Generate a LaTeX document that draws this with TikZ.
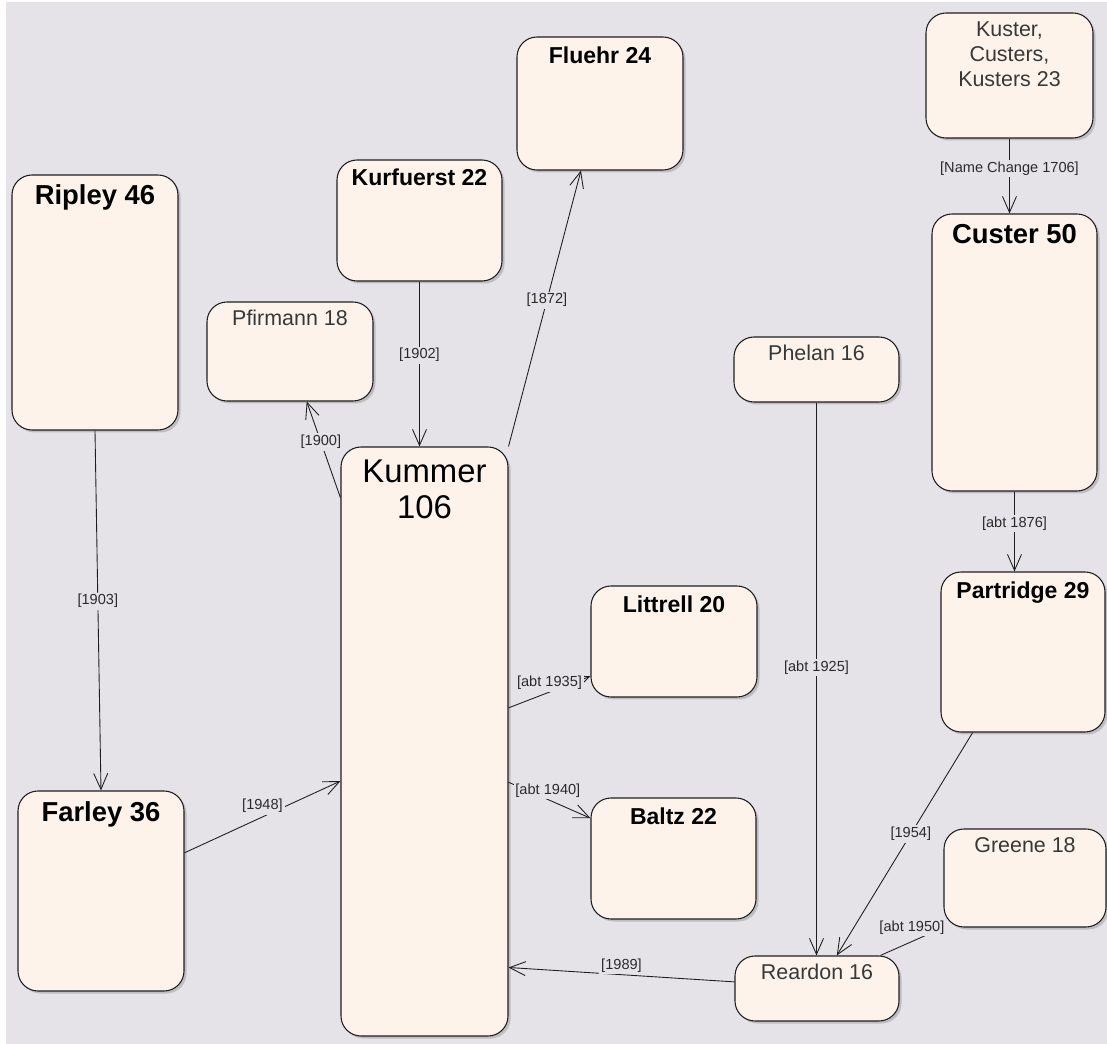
\documentclass[tikz,border=0pt]{standalone}
\usepackage{fontspec}
\setmainfont{Liberation Sans}
\usetikzlibrary{arrows.meta, positioning, calc, shadows}
\definecolor{canvasGray}{HTML}{E6E3E8}
\definecolor{boxCream}{HTML}{FDF3EA}
\definecolor{edgeDark}{HTML}{1E1E1E}
\definecolor{nameGray}{HTML}{383838}
\definecolor{lblText}{HTML}{2A2A2A}
\tikzset{
  famBox/.style 2 args={rectangle, rounded corners=0.4cm, draw=edgeDark, line width=0.6pt,
    fill=boxCream, minimum width=#1*0.02cm, minimum height=#2*0.02cm, inner sep=0pt,
    drop shadow={shadow xshift=0.05cm, shadow yshift=-0.05cm, opacity=0.25, fill=black!70}},
  nameHuge/.style={font=\fontsize{18.7}{20.5}\selectfont, inner sep=0pt, align=center},
  nameBig/.style={font=\fontsize{15.6}{18}\selectfont\bfseries, inner sep=0pt},
  nameBold/.style={font=\fontsize{13.1}{15}\selectfont\bfseries, inner sep=0pt},
  nameThin/.style={font=\fontsize{12.2}{14.2}\selectfont, text=nameGray, inner sep=0pt, align=center},
  arr/.style={-{Straight Barb[length=3.2mm, width=2.8mm]}, draw=edgeDark, line width=0.5pt},
  plain/.style={draw=edgeDark, line width=0.5pt},
  lbl/.style={fill=canvasGray, inner sep=1pt, text=lblText, font=\fontsize{8.3}{10}\selectfont},
}

\begin{document}
\begin{tikzpicture}[x=0.02cm, y=-0.02cm]
  \useasboundingbox (0,0) rectangle (1107,1044);
  \fill[white] (0,0) rectangle (1107,1044);
  \fill[canvasGray] (6,2) rectangle (1107,1044);

  % family boxes
  \node[famBox={167}{125}] (kuster) at (1009.5,75.5) {};
  \node[famBox={166}{133}] (fluehr) at (600,103.5) {};
  \node[famBox={166}{255}] (ripley) at (95,302.5) {};
  \node[famBox={165}{121}] (kurfuerst) at (419.5,220.5) {};
  \node[famBox={165}{277}] (custer) at (1014.5,352.5) {};
  \node[famBox={166}{99}] (pfirmann) at (290,351.5) {};
  \node[famBox={165}{65}] (phelan) at (816.5,369.5) {};
  \node[famBox={167}{589}] (kummer) at (424.5,741.5) {};
  \node[famBox={166}{111}] (littrell) at (674,641.5) {};
  \node[famBox={164}{160}] (partridge) at (1023,652) {};
  \node[famBox={166}{200}] (farley) at (101,891) {};
  \node[famBox={165}{121}] (baltz) at (673.5,858.5) {};
  \node[famBox={162}{98}] (greene) at (1025,878) {};
  \node[famBox={164}{65}] (reardon) at (817,988.5) {};

  % names
  \node[nameThin, below=0.18cm of kuster.north] (kusterT) {Kuster,\\Custers,\\Kusters 23};
  \node[nameBold, below=0.2cm of fluehr.north] (fluehrT) {Fluehr 24};
  \node[nameBig, below=0.2cm of ripley.north] (ripleyT) {Ripley 46};
  \node[nameBold, below=0.18cm of kurfuerst.north] (kurfuerstT) {Kurfuerst 22};
  \node[nameBig, below=0.22cm of custer.north] (custerT) {Custer 50};
  \node[nameThin, below=0.16cm of pfirmann.north] (pfirmannT) {Pfirmann 18};
  \node[nameThin, below=0.16cm of phelan.north] (phelanT) {Phelan 16};
  \node[nameHuge, below=0.26cm of kummer.north] (kummerT) {Kummer\\106};
  \node[nameBold, below=0.2cm of littrell.north] (littrellT) {Littrell 20};
  \node[nameBold, below=0.2cm of partridge.north] (partridgeT) {Partridge 29};
  \node[nameBig, below=0.22cm of farley.north] (farleyT) {Farley 36};
  \node[nameBold, below=0.2cm of baltz.north] (baltzT) {Baltz 22};
  \node[nameThin, below=0.18cm of greene.north] (greeneT) {Greene 18};
  \node[nameThin, below=0.16cm of reardon.north] (reardonT) {Reardon 16};

  % links
  \draw[arr] (kuster.south) -- (kuster.south |- custer.north)
    node[lbl, pos=0.4] (l1706) {[Name Change 1706]};
  \draw[arr] (custer.south) -- (custer.south |- partridge.north)
    node[lbl, pos=0.4] (l1876) {[abt 1876]};
  \draw[arr] (ripley.south) -- (farley.north)
    node[lbl, pos=0.474] (l1903) {[1903]};
  \draw[arr] (kurfuerst.south) -- (kurfuerst.south |- kummer.north)
    node[lbl, pos=0.446] (l1902) {[1902]};
  \draw[arr] ($(kummer.north west)!0.087!(kummer.south west)$) -- ($(pfirmann.south west)!0.6!(pfirmann.south east)$)
    node[lbl, pos=0.58] (l1900) {[1900]};
  \draw[arr] (kummer.north east) -- ($(fluehr.south west)!0.386!(fluehr.south east)$)
    node[lbl, pos=0.53] (l1872) {[1872]};
  \draw[arr] ($(farley.north east)!0.31!(farley.south east)$) -- ($(kummer.north west)!0.567!(kummer.south west)$)
    node[lbl, pos=0.5, above=1pt] (l1948) {[1948]};
  \draw[arr] ($(kummer.north east)!0.443!(kummer.south east)$) -- ($(littrell.north west)!0.81!(littrell.south west)$)
    node[lbl, pos=0.5, above=0pt] (l1935) {[abt 1935]};
  \draw[arr] ($(kummer.north east)!0.569!(kummer.south east)$) -- ($(baltz.north west)!0.17!(baltz.south west)$)
    node[lbl, pos=0.48, above=0pt] (l1940) {[abt 1940]};
  \draw[arr] ($(reardon.north west)!0.4!(reardon.south west)$) -- ($(kummer.north east)!0.883!(kummer.south east)$)
    node[lbl, pos=0.5, above=0pt] (l1989) {[1989]};
  \draw[arr] (phelan.south) -- (phelan.south |- reardon.north)
    node[lbl, pos=0.48] (l1925) {[abt 1925]};
  \draw[arr] ($(partridge.south west)!0.195!(partridge.south east)$) -- ($(reardon.north west)!0.62!(reardon.north east)$)
    node[lbl, pos=0.455] (l1954) {[1954]};
  \draw[plain] ($(reardon.north west)!0.884!(reardon.north east)$) -- (greene.south west)
    node[lbl, pos=0.5, above=3pt] (l1950) {[abt 1950]};
\end{tikzpicture}
\end{document}
